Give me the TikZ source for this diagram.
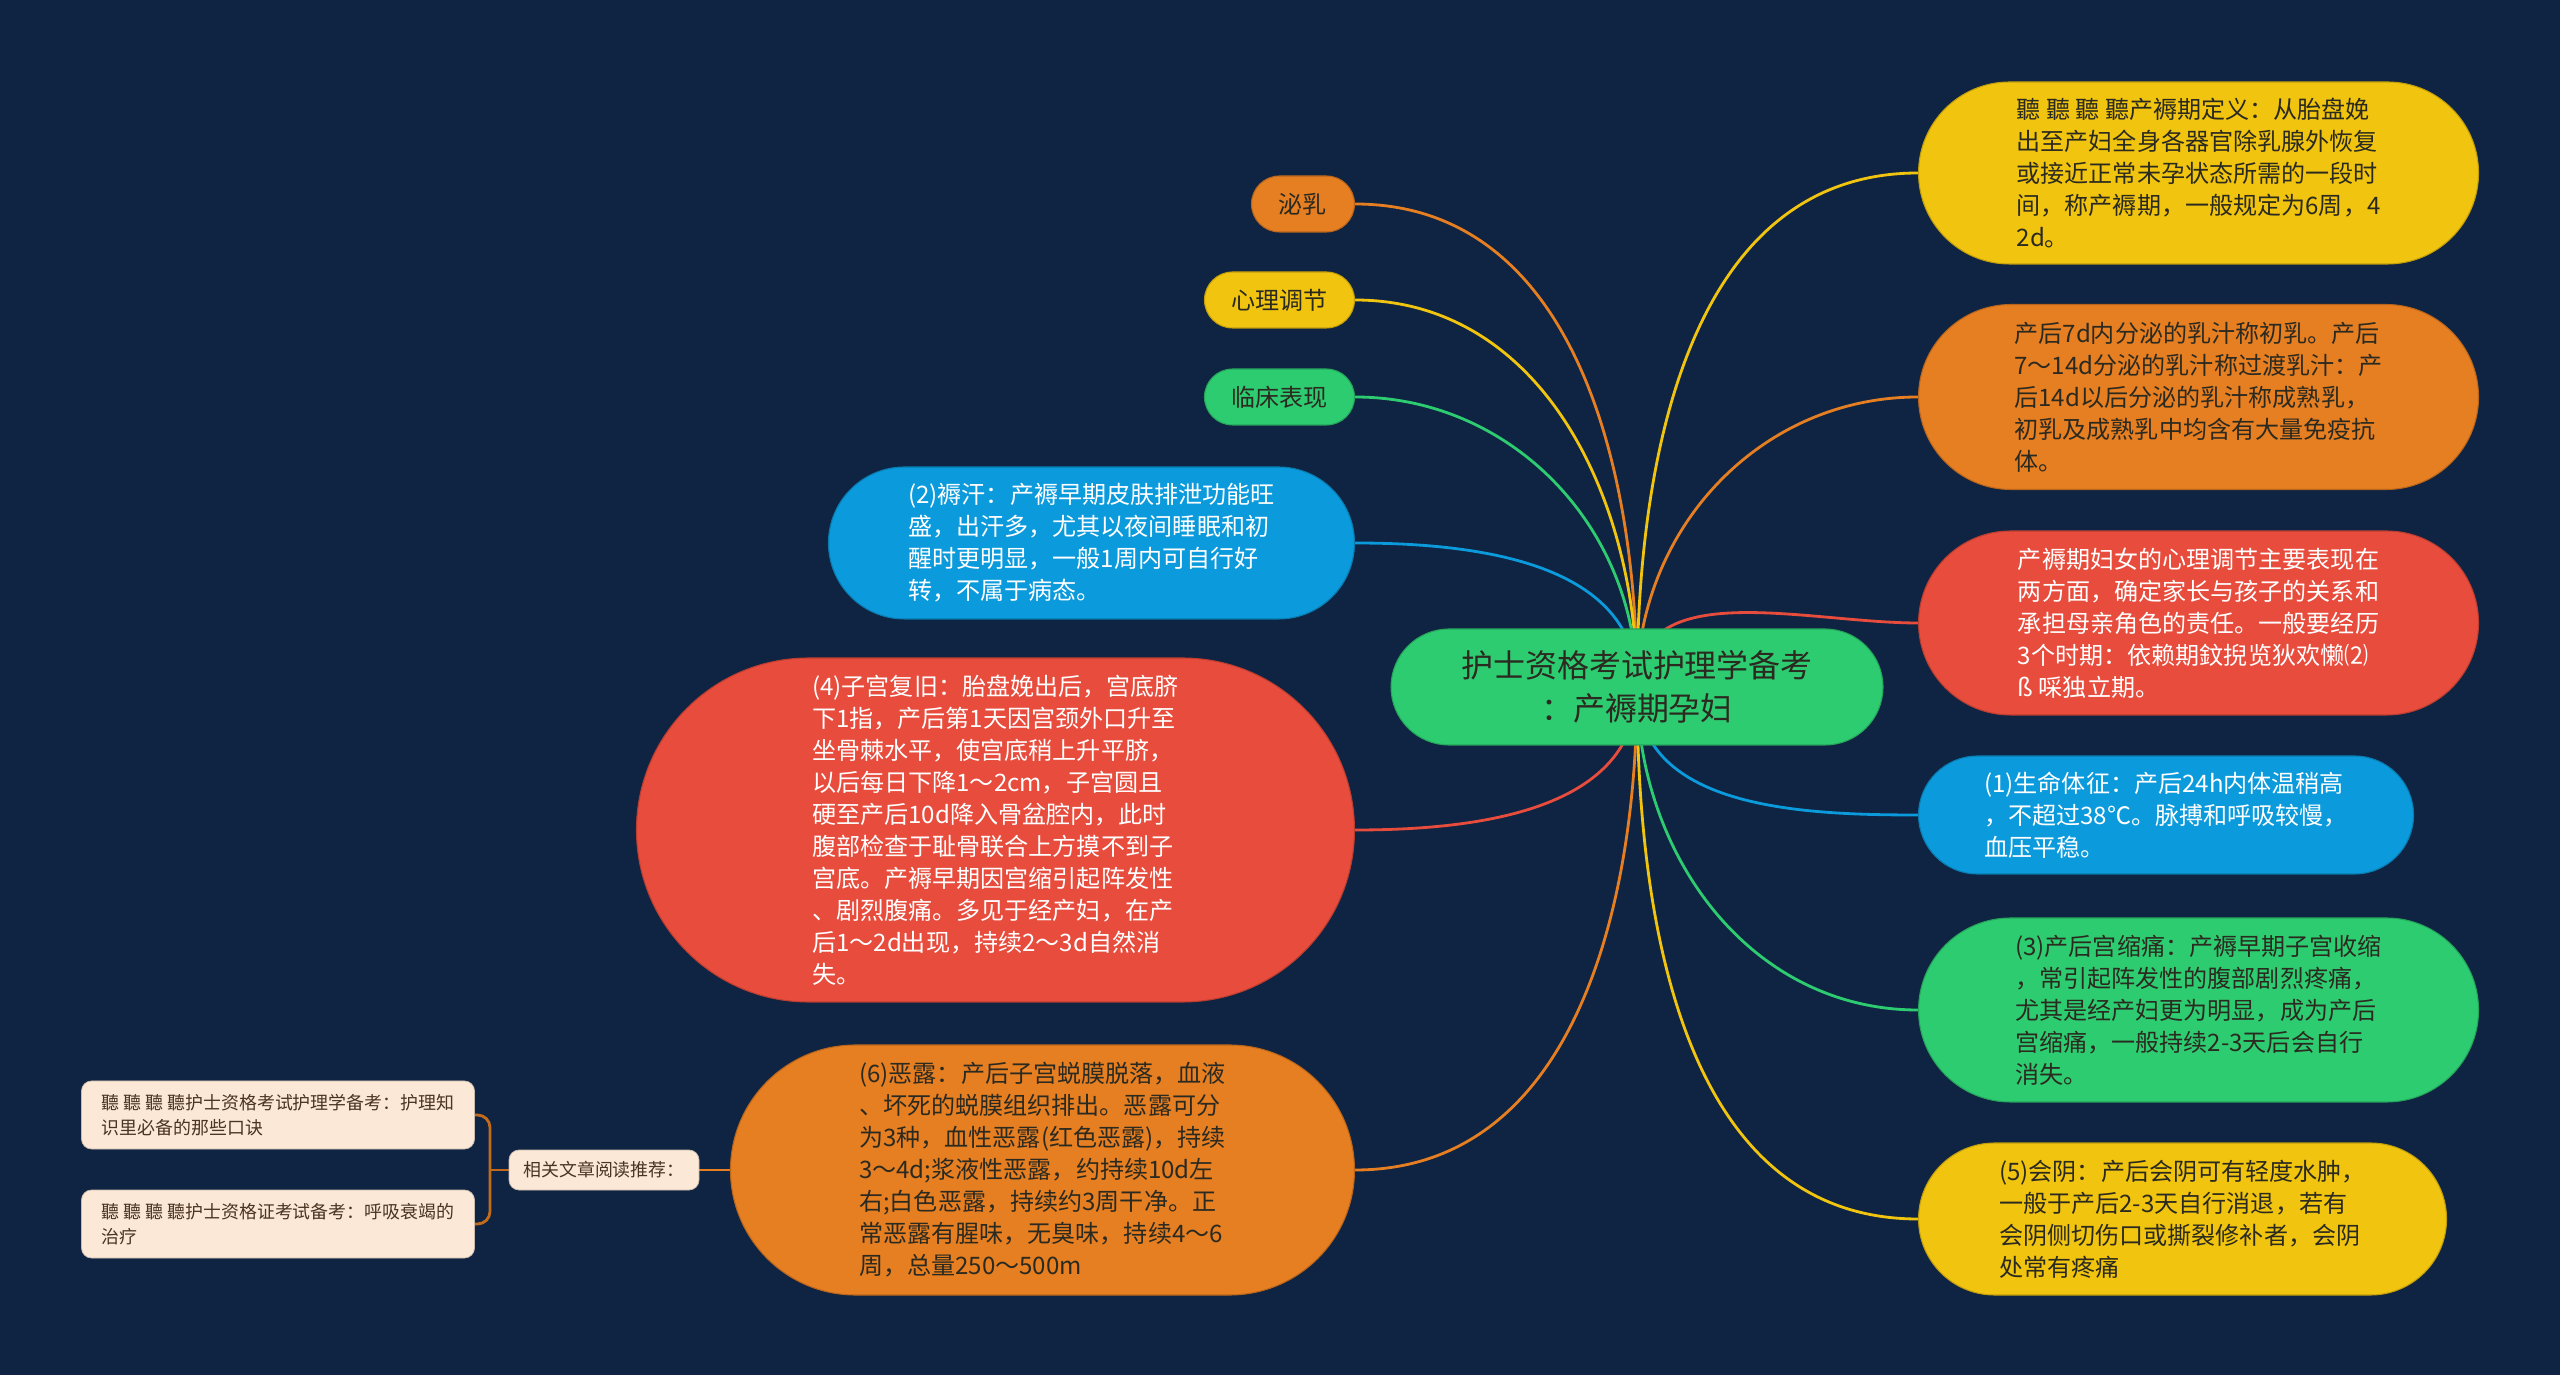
\documentclass[tikz,border=0pt]{standalone}
\usepackage{fontspec}
\setmainfont{Noto Sans CJK SC}
\usetikzlibrary{shapes.misc,backgrounds}

\definecolor{bgnavy}{HTML}{0E2442}
\definecolor{yellowN}{HTML}{F1C40F}
\definecolor{orangeN}{HTML}{E67E22}
\definecolor{redN}{HTML}{E74C3C}
\definecolor{blueN}{HTML}{0B9ADB}
\definecolor{greenN}{HTML}{2ECC71}
\definecolor{peachN}{HTML}{FCE8D6}
\definecolor{inkdark}{HTML}{2B2A20}
\definecolor{inkbrown}{HTML}{4A3522}

\newcommand{\bodyfont}{\fontsize{13.7}{18.2}\selectfont}
\newcommand{\titlefont}{\fontsize{18.2}{24.2}\selectfont}
\newcommand{\notefont}{\fontsize{10.2}{13.9}\selectfont}

\tikzset{
  topic/.style={rounded rectangle, fill=#1, draw=#1!80!black, line width=0.6pt,
    inner sep=0pt, text=inkdark, align=left, font=\bodyfont},
  link/.style={draw=#1, line width=1.6pt},
  relbox/.style={rectangle, rounded corners=0.2cm, fill=peachN, draw=peachN!80!black,
    line width=0.4pt, inner sep=0pt, text=inkbrown, align=left, font=\notefont}
}

\begin{document}
\begin{tikzpicture}

\useasboundingbox (0,0) rectangle (51.2,27.5);

%------------------------------------------------
% Centre
%------------------------------------------------
\node[topic=greenN, align=center, font=\titlefont, minimum width=9.84cm, minimum height=2.32cm]
  (c) at (32.74,13.76) {护士资格考试护理学备考\\：产褥期孕妇};

%------------------------------------------------
% Right branches
%------------------------------------------------
\node[topic=yellowN, anchor=west, minimum width=11.2cm, minimum height=3.64cm] (r1) at (38.36,24.04)
  {聽 聽 聽 聽产褥期定义：从胎盘娩\\出至产妇全身各器官除乳腺外恢复\\或接近正常未孕状态所需的一段时\\间，称产褥期，一般规定为6周，4\\2d。};

\node[topic=orangeN, anchor=west, minimum width=11.2cm, minimum height=3.7cm] (r2) at (38.36,19.56)
  {产后7d内分泌的乳汁称初乳。产后\\7～14d分泌的乳汁称过渡乳汁：产\\后14d以后分泌的乳汁称成熟乳，\\初乳及成熟乳中均含有大量免疫抗\\体。};

\node[topic=redN, text=white, anchor=west, minimum width=11.2cm, minimum height=3.68cm] (r3) at (38.36,15.04)
  {产褥期妇女的心理调节主要表现在\\两方面，确定家长与孩子的关系和\\承担母亲角色的责任。一般要经历\\3个时期：依赖期鈫掜览狄欢懒⑵\\ß 啋独立期。};

\node[topic=blueN, text=white, anchor=west, minimum width=9.9cm, minimum height=2.36cm] (r4) at (38.36,11.2)
  {(1)生命体征：产后24h内体温稍高\\，不超过38℃。脉搏和呼吸较慢，\\血压平稳。};

\node[topic=greenN, anchor=west, minimum width=11.2cm, minimum height=3.68cm] (r5) at (38.36,7.3)
  {(3)产后宫缩痛：产褥早期子宫收缩\\，常引起阵发性的腹部剧烈疼痛，\\尤其是经产妇更为明显，成为产后\\宫缩痛，一般持续2-3天后会自行\\消失。};

\node[topic=yellowN, anchor=west, minimum width=10.56cm, minimum height=3.04cm] (r6) at (38.36,3.12)
  {(5)会阴：产后会阴可有轻度水肿，\\一般于产后2-3天自行消退，若有\\会阴侧切伤口或撕裂修补者，会阴\\处常有疼痛};

%------------------------------------------------
% Left branches
%------------------------------------------------
\node[topic=orangeN, anchor=east, align=center, minimum width=2.06cm, minimum height=1.12cm] (l1) at (27.1,23.42) {泌乳};
\node[topic=yellowN, anchor=east, align=center, minimum width=3.0cm, minimum height=1.12cm] (l2) at (27.1,21.5) {心理调节};
\node[topic=greenN, anchor=east, align=center, minimum width=3.0cm, minimum height=1.12cm] (l3) at (27.1,19.56) {临床表现};

\node[topic=blueN, text=white, anchor=east, minimum width=10.52cm, minimum height=3.04cm] (l4) at (27.1,16.64)
  {(2)褥汗：产褥早期皮肤排泄功能旺\\盛，出汗多，尤其以夜间睡眠和初\\醒时更明显，一般1周内可自行好\\转，不属于病态。};

\node[topic=redN, text=white, anchor=east, minimum width=14.36cm, minimum height=6.88cm] (l5) at (27.1,10.9)
  {(4)子宫复旧：胎盘娩出后，宫底脐\\下1指，产后第1天因宫颈外口升至\\坐骨棘水平，使宫底稍上升平脐，\\以后每日下降1～2cm，子宫圆且\\硬至产后10d降入骨盆腔内，此时\\腹部检查于耻骨联合上方摸不到子\\宫底。产褥早期因宫缩引起阵发性\\、剧烈腹痛。多见于经产妇，在产\\后1～2d出现，持续2～3d自然消\\失。};

\node[topic=orangeN, anchor=east, minimum width=12.48cm, minimum height=5.0cm] (l6) at (27.1,4.1)
  {(6)恶露：产后子宫蜕膜脱落，血液\\、坏死的蜕膜组织排出。恶露可分\\为3种，血性恶露(红色恶露)，持续\\3～4d;浆液性恶露，约持续10d左\\右;白色恶露，持续约3周干净。正\\常恶露有腥味，无臭味，持续4～6\\周，总量250～500m};

%------------------------------------------------
% Related reading
%------------------------------------------------
\node[relbox, minimum width=3.8cm, minimum height=0.8cm] (rel) at (12.08,4.1) {相关文章阅读推荐：};
\node[relbox, minimum width=7.86cm, minimum height=1.36cm] (sub1) at (5.56,5.2)
  {聽 聽 聽 聽护士资格考试护理学备考：护理知\\识里必备的那些口诀};
\node[relbox, minimum width=7.86cm, minimum height=1.36cm] (sub2) at (5.56,3.02)
  {聽 聽 聽 聽护士资格证考试备考：呼吸衰竭的\\治疗};
\coordinate (brk) at (9.8,4.1);

%------------------------------------------------
% Connectors
%------------------------------------------------
\begin{scope}[on background layer]
\fill[bgnavy] (0,0) rectangle (51.2,27.5);

% upper half
\draw[link=yellowN] (c.center) to[out=90,in=180] (r1.west);
\draw[link=orangeN] (c.center) to[out=90,in=180] (r2.west);
\draw[link=redN] (c.center) to[out=90,in=180] (r3.west);
\draw[link=orangeN] (c.center) to[out=90,in=0] (l1.east);
\draw[link=yellowN] (c.center) to[out=90,in=0] (l2.east);
\draw[link=greenN] (c.center) to[out=90,in=0] (l3.east);
\draw[link=blueN] (c.center) to[out=90,in=0] (l4.east);

% lower half
\draw[link=blueN] (c.center) to[out=-90,in=180] (r4.west);
\draw[link=greenN] (c.center) to[out=-90,in=180] (r5.west);
\draw[link=yellowN] (c.center) to[out=-90,in=180] (r6.west);
\draw[link=redN] (c.center) to[out=-90,in=0] (l5.east);
\draw[link=orangeN] (c.center) to[out=-90,in=0] (l6.east);

% related reading
\draw[link=orangeN] (l6.west) -- (rel.east);
\draw[link=orangeN!85!black, rounded corners=0.25cm] (sub1.east) -| (brk) |- (sub2.east);
\draw[link=orangeN!85!black] (brk) -- (rel.west);
\end{scope}

\end{tikzpicture}
\end{document}
